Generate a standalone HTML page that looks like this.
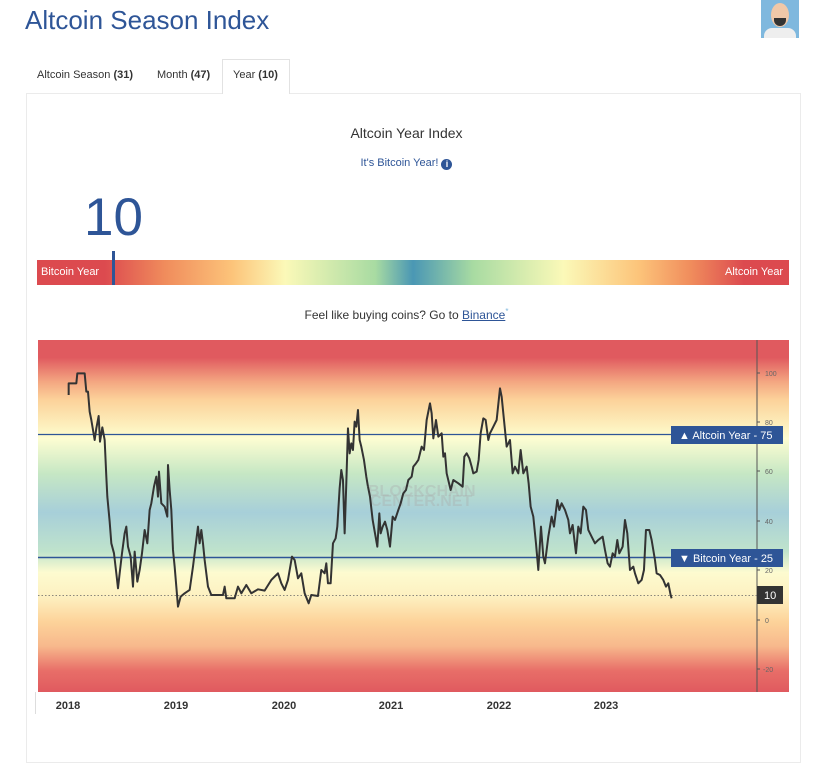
<!DOCTYPE html>
<html><head><meta charset="utf-8"><style>
*{margin:0;padding:0;box-sizing:border-box}
body{width:813px;height:751px;background:#fff;font-family:"Liberation Sans",sans-serif;position:relative;overflow:hidden;color:#333}
.a{position:absolute}
</style></head><body>
<div class="a" style="left:25px;top:5px;font-size:26px;color:#2e5597;">Altcoin Season Index</div>
<div class="a" style="left:761px;top:0;width:38px;height:38px;background:#7fb8de;overflow:hidden">
 <div class="a" style="left:10px;top:3px;width:18px;height:24px;border-radius:50%;background:#f0c8a8"></div>
 <div class="a" style="left:13px;top:18px;width:12px;height:8px;border-radius:0 0 6px 6px;background:#333"></div>
 <div class="a" style="left:3px;top:28px;width:32px;height:12px;border-radius:8px 8px 0 0;background:#eee"></div>
</div>
<div class="a" style="left:37px;top:69px;font-size:11px;color:#333">Altcoin Season <b>(31)</b></div>
<div class="a" style="left:157px;top:69px;font-size:11px;color:#333">Month <b>(47)</b></div>
<div class="a" style="left:222px;top:59px;width:68px;height:35px;border:1px solid #e2e2e2;border-bottom:none;background:#fff;z-index:2"></div>
<div class="a" style="left:233px;top:69px;font-size:11px;color:#333;z-index:3">Year <b>(10)</b></div>
<div class="a" style="left:26px;top:93px;width:775px;height:670px;border:1px solid #ebebeb"></div>
<div class="a" style="left:0;width:813px;top:125px;text-align:center;font-size:14px;color:#333">Altcoin Year Index</div>
<div class="a" style="left:0;width:813px;top:157px;text-align:center;font-size:11px;color:#2e5597">It's Bitcoin Year! <span style="display:inline-block;width:11px;height:11px;border-radius:50%;background:#2e5597;color:#fff;font-size:9px;line-height:11px;font-weight:bold;vertical-align:-1px">i</span></div>
<div class="a" style="left:84px;top:188px;font-size:53px;color:#2e5597;line-height:60px">10</div>
<div class="a" style="left:37px;top:260px;width:752px;height:25px;background:linear-gradient(to right,#dc4a4f 0%,#dc4a4f 9%,#f08c5c 17%,#fcc47a 26%,#fbf9b8 33%,#a8dba2 45%,#4a97b4 50%,#a8dba2 58%,#fbf9b8 70%,#fcc47a 80%,#f08c5c 87%,#dc4a4f 94%,#dc4a4f 100%)"></div>
<div class="a" style="left:41px;top:266px;font-size:11px;color:#fff">Bitcoin Year</div>
<div class="a" style="left:725px;top:266px;font-size:11px;color:#fff">Altcoin Year</div>
<div class="a" style="left:112px;top:251px;width:3px;height:34px;background:#2e5597"></div>
<div class="a" style="left:0;width:813px;top:307px;text-align:center;font-size:12px;color:#333">Feel like buying coins? Go to <span style="color:#2e5597;text-decoration:underline">Binance</span><sup style="color:#7fb8de;font-size:8px">*</sup></div>
<div class="a" style="left:38px;top:340px;width:751px;height:352px;background:linear-gradient(to bottom,#e05a5f 0%,#e05a5f 5%,#f4a882 12%,#fcd29a 17%,#fdf2c0 25%,#fdfdd2 28%,#c6e7c4 38%,#a7cfd9 49%,#bfe3cc 60%,#fdfbd0 66%,#fdf0c0 73%,#fdd39a 80%,#f7b88c 87%,#e86e68 94%,#e05a5f 100%)"></div>
<div class="a" style="left:35px;top:692px;width:1px;height:22px;background:#ddd"></div>
<svg class="a" style="left:0;top:0" width="813" height="751">
<line x1="757" y1="340" x2="757" y2="692" stroke="#555" stroke-width="1"/>
<g font-size="7" fill="#666" font-family="Liberation Sans">
<text x="765" y="376">100</text><text x="765" y="425">80</text><text x="765" y="474">60</text><text x="765" y="524">40</text><text x="765" y="573">20</text><text x="765" y="623">0</text><text x="763" y="672">-20</text>
</g>
<g stroke="#555"><line x1="757" y1="373" x2="760" y2="373"/><line x1="757" y1="422" x2="760" y2="422"/><line x1="757" y1="471" x2="760" y2="471"/><line x1="757" y1="521" x2="760" y2="521"/><line x1="757" y1="570" x2="760" y2="570"/><line x1="757" y1="620" x2="760" y2="620"/><line x1="757" y1="669" x2="760" y2="669"/></g>
<line x1="38" y1="434.5" x2="757" y2="434.5" stroke="#2e5597" stroke-width="1.3"/>
<line x1="38" y1="557.5" x2="757" y2="557.5" stroke="#2e5597" stroke-width="1.5"/>
<line x1="38" y1="595.5" x2="757" y2="595.5" stroke="#666" stroke-width="0.8" stroke-dasharray="1.5,2"/>
<text x="368" y="496" font-size="16" font-weight="bold" fill="#aaa" opacity="0.35" font-family="Liberation Sans">BLOCKCHAIN</text>
<text x="370" y="506" font-size="16" font-weight="bold" fill="#aaa" opacity="0.35" font-family="Liberation Sans">CENTER.NET</text>
<g transform="translate(38,340) scale(0.3333)" fill="none" stroke="#333" stroke-width="2" stroke-linejoin="round">
<polyline vector-effect="non-scaling-stroke" points="92,165 92,130 115,130 118,100 140,100 145,155 150,155 155,215 160,240 165,270 170,300 175,265 182,228 186,305 193,262 200,300 205,410 208,470 215,545 220,610 228,640 235,700 240,745 245,700 252,640 260,580 265,560 270,620 278,650 285,740 290,635 298,725 305,690 312,640 320,570 328,610 335,510 340,490 348,440 355,410 360,470 363,395 370,490 380,500 388,530 390,375 395,450 400,510 405,630 410,680 415,740 420,800 428,770 440,760 455,750 465,680 475,600 480,560 485,610 490,570 495,610 500,660 510,740 520,765 555,765 560,740 565,775 590,775 600,740 610,760 625,735 640,760 660,748 680,752 700,720 710,710 720,700 730,730 740,750 750,720 762,650 770,660 780,715 790,700 800,760 812,790 820,765 840,768 850,690 860,700 865,670 870,730 878,730 885,610 893,595 898,560 905,445 910,390 915,420 920,580 925,430 930,265 935,340 940,310 945,330 950,245 955,260 960,210 965,300 970,320 978,360 985,410 990,440"/>
</g>
<g transform="translate(330,340) scale(0.3333)" fill="none" stroke="#333" stroke-width="2" stroke-linejoin="round">
<polyline vector-effect="non-scaling-stroke" points="114,440 120,470 128,540 135,580 142,620 148,520 152,580 158,560 165,545 172,570 180,620 188,530 195,540 205,510 212,490 220,460 228,450 235,420 245,410 250,380 258,370 265,360 275,320 282,330 290,240 300,190 305,220 310,295 318,240 325,290 335,280 340,350 345,340 350,400 362,450 370,420 385,430 398,440 403,350 410,340 418,355 425,380 430,400 440,395 446,360 452,280 460,235 467,240 475,300 480,280 490,260 500,240 510,145 515,170 522,240 530,320 540,300 548,400 555,380 565,400 572,330 580,400 590,380 596,430 602,500 610,530 618,610 625,690 633,560 640,650 645,670 655,590 665,530 672,560 682,480 688,510 695,490 705,510 715,540 720,580 728,555 738,640 745,560 752,580 760,500 768,510 775,570 785,590 795,610 805,600 818,590 825,630 833,670 840,680 848,640 855,650 862,600 868,640 878,620 885,540 892,580 900,690 910,680 915,700 925,730 935,720 942,690 948,570 958,570 965,600 975,660 980,700 990,705 1000,720 1008,740 1015,730 1022,765 1025,775"/>
</g>
<rect x="671" y="426" width="112" height="18" fill="#2e5597"/>
<text x="679" y="439" font-size="11" fill="#fff" font-family="Liberation Sans">▲ Altcoin Year - 75</text>
<rect x="671" y="549" width="112" height="18" fill="#2e5597"/>
<text x="679" y="562" font-size="11" fill="#fff" font-family="Liberation Sans">▼ Bitcoin Year - 25</text>
<rect x="757" y="586" width="26" height="18" fill="#333"/>
<text x="764" y="599" font-size="11" fill="#fff" font-family="Liberation Sans">10</text>
<g font-size="11" fill="#333" font-weight="bold" font-family="Liberation Sans" text-anchor="middle">
<text x="68" y="709">2018</text><text x="176" y="709">2019</text><text x="284" y="709">2020</text><text x="391" y="709">2021</text><text x="499" y="709">2022</text><text x="606" y="709">2023</text>
</g>
</svg>
</body></html>
